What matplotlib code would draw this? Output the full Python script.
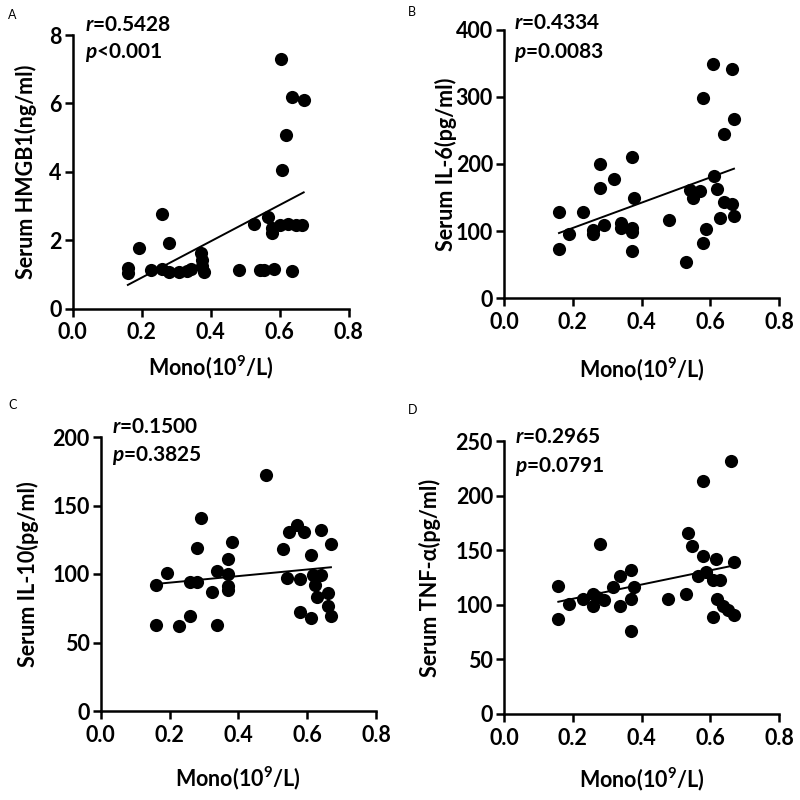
import numpy as np
import matplotlib
matplotlib.use("Agg")
import matplotlib.pyplot as plt

plt.rcParams['font.family'] = ['Lato', 'DejaVu Sans']
plt.rcParams['mathtext.fontset'] = 'custom'
plt.rcParams['mathtext.it'] = 'Lato:bold:italic'
plt.rcParams['mathtext.rm'] = 'Lato:bold'
plt.rcParams['mathtext.bf'] = 'Lato:bold'

# ---- data ----
a_x = [0.605, 0.637, 0.670, 0.619, 0.608, 0.260, 0.191, 0.279, 0.160, 0.160, 0.228, 0.259,
       0.280, 0.307, 0.331, 0.344, 0.371, 0.374, 0.374, 0.380, 0.482, 0.544, 0.556, 0.583,
       0.637, 0.527, 0.566, 0.579, 0.579, 0.600, 0.624, 0.648, 0.665]
a_y = [7.29, 6.19, 6.10, 5.07, 4.05, 2.76, 1.77, 1.91, 1.18, 1.05, 1.13, 1.15,
       1.08, 1.06, 1.10, 1.15, 1.61, 1.42, 1.24, 1.06, 1.13, 1.13, 1.13, 1.15,
       1.10, 2.47, 2.67, 2.35, 2.22, 2.44, 2.47, 2.44, 2.44]

b_x = [0.160, 0.160, 0.189, 0.229, 0.260, 0.260, 0.291, 0.279, 0.279, 0.320, 0.339, 0.339,
       0.371, 0.378, 0.371, 0.371, 0.371, 0.480, 0.529, 0.541, 0.549, 0.570, 0.579, 0.589,
       0.579, 0.609, 0.611, 0.620, 0.628, 0.640, 0.640, 0.662, 0.662, 0.669, 0.669]
b_y = [128, 73, 96, 128, 102, 96, 109, 164, 200, 177, 112, 105,
       210, 150, 105, 99, 71, 116, 55, 161, 150, 160, 83, 103,
       298, 348, 182, 163, 120, 245, 143, 341, 140, 267, 123]

c_x = [0.161, 0.161, 0.192, 0.228, 0.259, 0.259, 0.281, 0.281, 0.292, 0.323, 0.339, 0.339,
       0.371, 0.371, 0.371, 0.371, 0.381, 0.480, 0.531, 0.541, 0.548, 0.570, 0.580, 0.580,
       0.592, 0.610, 0.610, 0.618, 0.623, 0.640, 0.640, 0.630, 0.660, 0.660, 0.669, 0.669]
c_y = [92, 63, 101, 62, 69, 94, 94, 119, 141, 87, 102, 63,
       111, 100, 91, 88, 123, 172, 118, 97, 131, 136, 96, 72,
       131, 114, 68, 99, 92, 132, 99, 83, 86, 77, 122, 69]

d_x = [0.158, 0.158, 0.190, 0.229, 0.258, 0.258, 0.270, 0.291, 0.279, 0.318, 0.337, 0.337,
       0.369, 0.369, 0.369, 0.378, 0.478, 0.529, 0.536, 0.546, 0.565, 0.578, 0.578, 0.588,
       0.607, 0.607, 0.617, 0.620, 0.628, 0.638, 0.653, 0.659, 0.669, 0.669]
d_y = [117, 87, 101, 105, 110, 99, 107, 104, 156, 116, 126, 99,
       132, 105, 76, 116, 105, 110, 166, 154, 126, 213, 145, 130,
       123, 89, 142, 105, 123, 99, 95, 232, 139, 91]

x_ticks = [0.0, 0.2, 0.4, 0.6, 0.8]
a_ticks = [0, 2, 4, 6, 8]
b_ticks = [0, 100, 200, 300, 400]
c_ticks = [0, 50, 100, 150, 200]
d_ticks = [0, 50, 100, 150, 200, 250]

letters = ['A', 'B', 'C', 'D']
ylabels = ['Serum HMGB1(ng/ml)', 'Serum IL-6(pg/ml)', 'Serum IL-10(pg/ml)', 'Serum TNF-α(pg/ml)']
r_texts = ['0.5428', '0.4334', '0.1500', '0.2965']
p_texts = ['<0.001', '=0.0083', '=0.3825', '=0.0791']
xlabel = 'Mono(10$^{9}$/L)'

# ---- layout (pixels in 800x800 figure) ----
W = H = 800.0
panels = [
    dict(box=(72.7, 348.5, 308.5, 35.0), x=a_x, y=a_y, yt=a_ticks,
         letter=(8, 15), rtxt=(85, 25), ptxt=(85, 52), ylab_x=26, xlab_y=367),
    dict(box=(504.0, 779.0, 298.5, 29.5), x=b_x, y=b_y, yt=b_ticks,
         letter=(408, 12), rtxt=(514, 23), ptxt=(514, 53), ylab_x=446, xlab_y=369),
    dict(box=(100.7, 376.0, 711.0, 437.0), x=c_x, y=c_y, yt=c_ticks,
         letter=(8, 405), rtxt=(112, 427), ptxt=(112, 456), ylab_x=28, xlab_y=778),
    dict(box=(504.0, 779.0, 714.0, 441.0), x=d_x, y=d_y, yt=d_ticks,
         letter=(408, 410), rtxt=(515, 437), ptxt=(515, 466), ylab_x=430, xlab_y=779),
]

fig = plt.figure(figsize=(8, 8), dpi=100)
fs = 15.5

for i, p in enumerate(panels):
    l, r, b, t = p['box']
    ax = fig.add_axes([l / W, 1 - b / H, (r - l) / W, (b - t) / H])
    xs = np.array(p['x'])
    ys = np.array(p['y'])
    ax.scatter(xs, ys, s=90, color='black', zorder=3, clip_on=False, linewidths=0)
    k, c0 = np.polyfit(xs, ys, 1)
    xl = np.array([xs.min(), xs.max()])
    ax.plot(xl, k * xl + c0, color='black', lw=1.4, zorder=2)

    ax.set_xlim(0, 0.8)
    ax.set_ylim(0, p['yt'][-1])
    ax.set_xticks(x_ticks)
    ax.set_xticklabels(['%.1f' % v for v in x_ticks])
    ax.set_yticks(p['yt'])
    ax.set_yticklabels([str(v) for v in p['yt']])
    for s in ['top', 'right']:
        ax.spines[s].set_visible(False)
    for s in ['left', 'bottom']:
        ax.spines[s].set_linewidth(1.8)
    ax.tick_params(direction='out', length=6, width=1.8, labelsize=fs)
    ax.tick_params(axis='x', pad=4)
    ax.tick_params(axis='y', pad=2)
    for lab in ax.get_xticklabels() + ax.get_yticklabels():
        lab.set_fontweight('bold')

    fig.text(p['ylab_x'] / W, 1 - ((t + b) / 2) / H, ylabels[i], rotation=90,
             ha='center', va='center', fontsize=fs, fontweight='bold')
    fig.text(((l + r) / 2) / W, 1 - p['xlab_y'] / H, xlabel,
             ha='center', va='center', fontsize=fs, fontweight='bold')
    fig.text(p['letter'][0] / W, 1 - p['letter'][1] / H, letters[i],
             ha='left', va='center', fontsize=9)
    fig.text(p['rtxt'][0] / W, 1 - p['rtxt'][1] / H, '$r$=' + r_texts[i],
             ha='left', va='center', fontsize=15, fontweight='bold')
    fig.text(p['ptxt'][0] / W, 1 - p['ptxt'][1] / H, '$p$' + p_texts[i],
             ha='left', va='center', fontsize=15, fontweight='bold')

fig.savefig('out.png', dpi=100)
